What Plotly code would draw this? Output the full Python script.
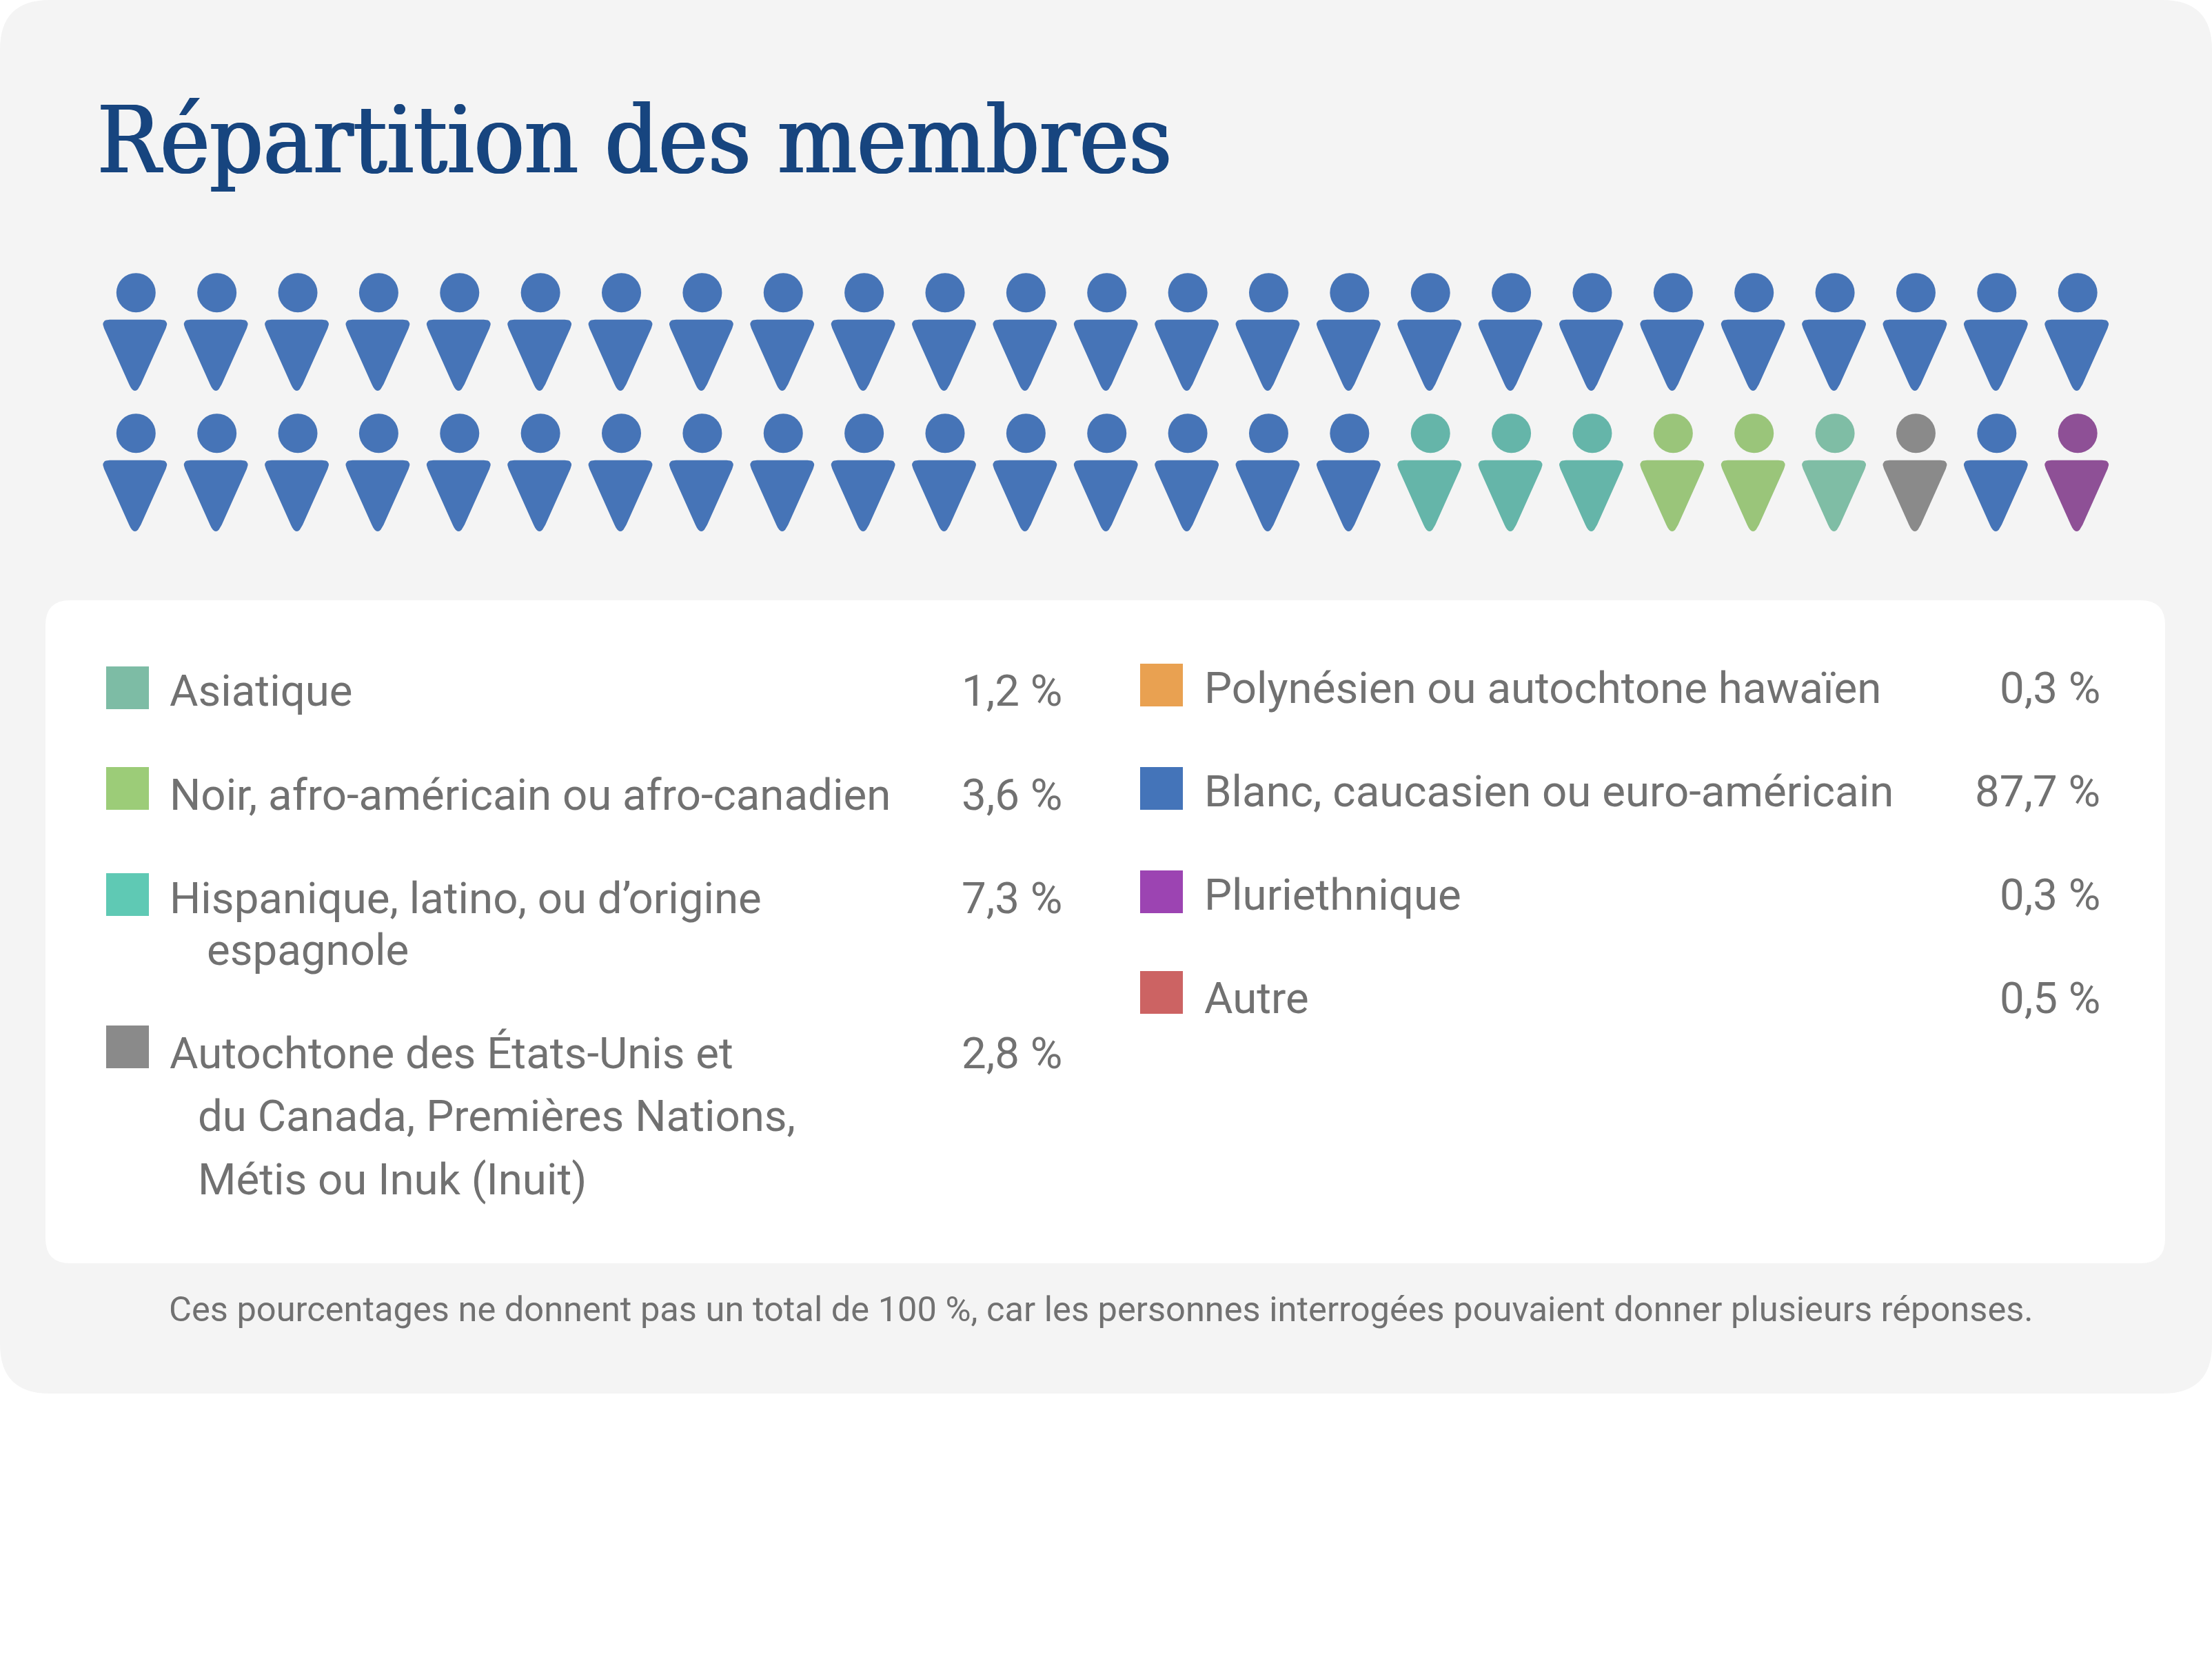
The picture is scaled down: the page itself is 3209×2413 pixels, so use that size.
import plotly.graph_objects as go

W, H = 3209, 2413

# ---- data ----
categories = ["Asiatique", "Noir", "Hispanique", "Autochtone", "Polynesien", "Blanc", "Pluriethnique", "Autre"]
legend_labels_left = [
    ["Asiatique"],
    ["Noir, afro-américain ou afro-canadien"],
    ["Hispanique, latino, ou d’origine", "espagnole"],
    ["Autochtone des États-Unis et", "du Canada, Premières Nations,", "Métis ou Inuk (Inuit)"],
]
legend_values_left = ["1,2 %", "3,6 %", "7,3 %", "2,8 %"]
legend_labels_right = [
    "Polynésien ou autochtone hawaïen",
    "Blanc, caucasien ou euro-américain",
    "Pluriethnique",
    "Autre",
]
legend_values_right = ["0,3 %", "87,7 %", "0,3 %", "0,5 %"]
title_text = "Répartition des membres"
note_text = "Ces pourcentages ne donnent pas un total de 100 %, car les personnes interrogées pouvaient donner plusieurs réponses."

row_one = ["Blanc"] * 25
row_two = ["Blanc"] * 16 + ["Hispanique"] * 3 + ["Noir"] * 2 + ["Asiatique", "Autochtone", "Blanc", "Pluriethnique"]

# ---- styles ----
icon_colors = {
    "Asiatique": "#7FBDA5", "Noir": "#9AC57A", "Hispanique": "#65B5A9", "Autochtone": "#8A8A8A",
    "Polynesien": "#E9A151", "Blanc": "#4674B7", "Pluriethnique": "#8E5096", "Autre": "#CC6363",
}
swatch_left = ["#7DBCA5", "#9CCC78", "#5FC9B4", "#8A8A8A"]
swatch_right = ["#E9A151", "#4474B9", "#9C44B2", "#CC6363"]
BODY_FONT = "Roboto"
TEXT = "#717171"
TITLE_COLOR = "#17457F"
SIZE = 63.6


def rounded_rect(x0, y0, x1, y1, r, corners="all"):
    return (f"M{x0+r},{y0} L{x1-r},{y0} Q{x1},{y0} {x1},{y0+r} L{x1},{y1-r} Q{x1},{y1} {x1-r},{y1} "
            f"L{x0+r},{y1} Q{x0},{y1} {x0},{y1-r} L{x0},{y0+r} Q{x0},{y0} {x0+r},{y0} Z")


def quad(p0, c, p1, n=8):
    return [((1-t)**2*p0[0]+2*t*(1-t)*c[0]+t*t*p1[0], (1-t)**2*p0[1]+2*t*(1-t)*c[1]+t*t*p1[1])
            for t in [i/n for i in range(n+1)]]


def torso_outline():
    tl, tr, ap = (-52, 39), (49, 39), (-1.5, 152)
    def along(a, b, d):
        L = ((b[0]-a[0])**2+(b[1]-a[1])**2)**.5
        return (a[0]+(b[0]-a[0])*d/L, a[1]+(b[1]-a[1])*d/L)
    pts = []
    pts += quad(along(tl, ap, 14), tl, along(tl, tr, 14))
    pts += quad(along(tr, tl, 14), tr, along(tr, ap, 14))
    pts += quad(along(ap, tr, 21), ap, along(ap, tl, 21))
    pts.append(pts[0])
    return pts


X0, STEP = 197.3, 117.37
ROW_Y = [424.7, 628.7]
outline = torso_outline()

fig = go.Figure()
for cat in categories:
    hx, hy, tx, ty = [], [], [], []
    for r, row in enumerate([row_one, row_two]):
        for c, who in enumerate(row):
            if who != cat:
                continue
            cx, cy = X0 + c*STEP, ROW_Y[r]
            hx.append(cx); hy.append(cy)
            tx += [cx+p[0] for p in outline] + [None]
            ty += [cy+p[1] for p in outline] + [None]
    if not hx:
        continue
    col = icon_colors[cat]
    fig.add_trace(go.Scatter(x=tx, y=ty, mode="lines", fill="toself", fillcolor=col,
                             line=dict(width=0, color=col), hoverinfo="skip", showlegend=False))
    fig.add_trace(go.Scatter(x=hx, y=hy, mode="markers", name=cat,
                             marker=dict(symbol="circle", size=57, color=col, line=dict(width=0)),
                             showlegend=False))

shapes = [
    dict(type="path", path=rounded_rect(0, 0, W, 2022, 72), fillcolor="#F4F4F4", line=dict(width=0), layer="below", xref="x", yref="y"),
    dict(type="path", path=rounded_rect(66, 871, 3141, 1833, 36), fillcolor="#FFFFFF", line=dict(width=0), layer="below", xref="x", yref="y"),
]
ann = []


def txt(x, base, s, size=SIZE, anchor="left", color=TEXT, family=BODY_FONT, **font_extra):
    ann.append(dict(x=x, y=base + 0.26*size, xref="x", yref="y", text=s, showarrow=False, xanchor=anchor,
                    yanchor="bottom", font=dict(family=family, size=size, color=color, **font_extra),
                    align=anchor, borderpad=0))


def swatch(x0, y0, col):
    shapes.append(dict(type="rect", x0=x0, x1=x0+62, y0=y0, y1=y0+62, fillcolor=col, line=dict(width=0), xref="x", yref="y"))


left_tops = [967, 1113, 1267, 1488]
left_bases = [[1024], [1175], [1325, 1400], [1550, 1641, 1733]]
left_xs = [[245], [245], [245, 299], [245, 286, 286]]
for i, lines in enumerate(legend_labels_left):
    swatch(154, left_tops[i], swatch_left[i])
    for s, b, x in zip(lines, left_bases[i], left_xs[i]):
        txt(x, b, s)
    txt(1542, left_bases[i][0], legend_values_left[i], anchor="right")

right_tops = [963, 1113, 1263, 1409]
right_bases = [1020, 1170, 1320, 1470]
for i, s in enumerate(legend_labels_right):
    swatch(1654, right_tops[i], swatch_right[i])
    txt(1746, right_bases[i], s)
    txt(3048, right_bases[i], legend_values_right[i], anchor="right")

txt(140, 248, title_text, size=135, color=TITLE_COLOR, family="DejaVu Serif Condensed",
    shadow=f"1.5px 0 0 {TITLE_COLOR}, -1.5px 0 0 {TITLE_COLOR}")
txt(1597, 1917, note_text, size=50.6, anchor="center")

fig.update_layout(
    width=W, height=H, margin=dict(l=0, r=0, t=0, b=0),
    paper_bgcolor="#FFFFFF", plot_bgcolor="#FFFFFF", showlegend=False,
    xaxis=dict(range=[0, W], visible=False, fixedrange=True),
    yaxis=dict(range=[H, 0], visible=False, fixedrange=True),
    shapes=shapes, annotations=ann,
)
fig.write_html("out.html", config={"displayModeBar": False},
               post_script="document.body.style.margin='0';document.body.style.overflow='hidden';")
